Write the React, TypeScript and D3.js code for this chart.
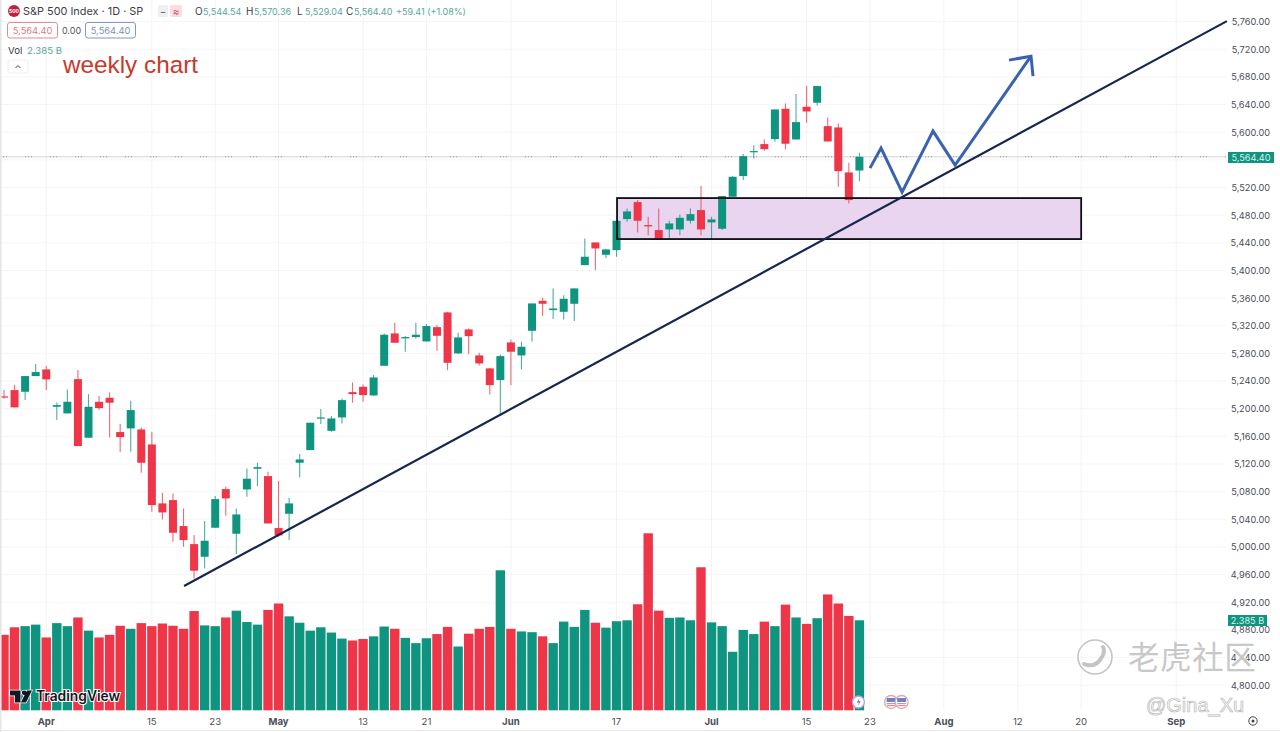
import React from "react";
import * as d3 from "d3";

// Daily OHLC, oldest first
const opens = [
  5217.8, 5226.9, 5224.5, 5247.2, 5256.8, 5202.8, 5193.2, 5242.8, 5158, 5210,
  5215.8, 5166.2, 5171.5, 5170, 5148.3, 5063, 5067.8, 5030.2, 5004.1, 4985.8,
  5027.8, 5083.7, 5019.1, 5083.2, 5113.1, 5102.5, 5027.3, 5048, 5121.8, 5140.1,
  5185.9, 5168, 5187.4, 5224, 5231.7, 5219.2, 5262.1, 5308.9, 5301.7, 5303.6,
  5297.3, 5318, 5339.3, 5280, 5314.7, 5277.1, 5258.3, 5241.4, 5295.9, 5277.1,
  5312.7, 5356.1, 5342.6, 5340.2, 5351.8, 5407.7, 5440.5, 5422.7, 5429.4, 5474.3,
  5498.9, 5465.6, 5458.4, 5459.3, 5459.3, 5471.9, 5487.3, 5469.5, 5460.3, 5506.6,
  5536.5, 5571.2, 5582.8, 5590, 5633.9, 5589.5, 5636.8, 5642.6, 5608.8, 5606.9,
  5541.8, 5544.54,
];
const highs = [
  5226.9, 5234.2, 5247.2, 5264.5, 5261.7, 5209, 5227.9, 5255.9, 5221.1, 5218.3,
  5223.6, 5177.7, 5211.5, 5172.9, 5166.7, 5078.4, 5077.4, 5055.7, 5017.2, 5037.4,
  5073.6, 5087.1, 5055.7, 5113.6, 5121.8, 5108.8, 5095.3, 5071.2, 5134.3, 5179.7,
  5199.4, 5189.3, 5214.8, 5238, 5235.1, 5248.6, 5308.9, 5324.3, 5305, 5324.3,
  5322.4, 5321, 5340.2, 5309.8, 5316.1, 5280.9, 5259.2, 5278.5, 5300.2, 5296.8,
  5352.3, 5360.5, 5374, 5364.3, 5374, 5446.3, 5440.5, 5431.3, 5471.9, 5489.7,
  5501.8, 5477.7, 5489.7, 5471.9, 5481, 5489.7, 5522.5, 5477.7, 5507.6, 5536.5,
  5568.3, 5581.3, 5589.5, 5632.9, 5641.6, 5655.1, 5666.7, 5666.7, 5621.4, 5612.7,
  5555.8, 5570.36,
];
const lows = [
  5214.9, 5201.9, 5212.5, 5247.2, 5226.9, 5183.5, 5193.2, 5145.9, 5158, 5198,
  5158.5, 5137.2, 5137.7, 5107.3, 5050.9, 5039.8, 5007.5, 5000.3, 4954.5, 4968.9,
  5027.8, 5045.1, 4989.7, 5072.6, 5088.1, 5034, 5014.8, 5009.9, 5100.6, 5140.1,
  5177.7, 5166.6, 5178.7, 5208.6, 5210, 5218.2, 5262.1, 5295.4, 5282.4, 5301.7,
  5297.3, 5283.8, 5255.8, 5279, 5279, 5262.6, 5220.6, 5190.7, 5234.1, 5256.8,
  5296.8, 5334, 5329.6, 5329.1, 5326.7, 5407.7, 5400.5, 5417.9, 5419.8, 5470.4,
  5455, 5451.1, 5445, 5446.3, 5451.1, 5468, 5451.1, 5444.9, 5458.4, 5506.6,
  5530.7, 5562, 5573.1, 5586.2, 5575, 5589.5, 5613.6, 5638.7, 5586.2, 5521.1,
  5497, 5529.04,
];
const closes = [
  5216.8, 5201.9, 5247.2, 5253, 5242.4, 5205.2, 5210, 5145.9, 5202.8, 5200.9,
  5208.6, 5158.9, 5198, 5121.8, 5060.6, 5049.9, 5020.5, 5009.9, 4965.6, 5009,
  5069.2, 5070.2, 5047, 5098.7, 5115.5, 5034, 5016.7, 5063, 5126.6, 5179.7,
  5187.4, 5185.9, 5212.4, 5221.1, 5219.7, 5245.2, 5307, 5295.4, 5303.6, 5307,
  5319.5, 5305.5, 5266.4, 5303.1, 5305, 5265.5, 5234.1, 5276.1, 5282.4, 5289.6,
  5352.3, 5351.8, 5345, 5359, 5374, 5419.8, 5431.8, 5430.4, 5471.9, 5485.4,
  5471.9, 5463.7, 5445.5, 5468, 5476.2, 5481.5, 5459.3, 5473.8, 5507.6, 5535.5,
  5565.4, 5572.7, 5575.5, 5632.9, 5583.3, 5614.6, 5630, 5666.7, 5586.6, 5543.7,
  5501.8, 5564.4,
];
// Volume in billions
const volumes = [
  2.0, 2.2, 2.23, 2.27, 1.93, 2.31, 2.23, 2.46, 2.11, 1.93,
  2.0, 2.24, 2.16, 2.31, 2.23, 2.3, 2.24, 2.16, 2.63, 2.25,
  2.23, 2.46, 2.64, 2.34, 2.27, 2.66, 2.83, 2.49, 2.32, 2.11,
  2.2, 2.06, 1.9, 1.85, 1.89, 1.96, 2.22, 2.16, 1.92, 1.78,
  1.91, 2.02, 2.21, 1.69, 2.03, 2.16, 2.21, 3.71, 2.16, 2.09,
  2.07, 1.96, 1.78, 2.35, 2.21, 2.66, 2.32, 2.19, 2.36, 2.385,
  2.81, 4.69, 2.64, 2.45, 2.46, 2.385, 3.79, 2.33, 2.23, 1.55,
  2.13, 2.02, 2.35, 2.23, 2.8, 2.46, 2.29, 2.44, 3.07, 2.83,
  2.5, 2.385,
];

const timeTickIndex = [4, 14, 20, 26, 34, 40, 48, 58, 67, 76, 82, 89, 96, 102, 111];
const timeTickLabel = ["Apr", "15", "23", "May", "13", "21", "Jun", "17", "Jul", "15", "23", "Aug", "12", "20", "Sep"];
const monthLabels = ["Apr", "May", "Jun", "Jul", "Aug", "Sep"];
const priceTicks = d3.range(4800, 5761, 40);
const hiddenPriceLabels = [5560]; // covered by the last-price tag

// Drawings on the chart, as [bar index, price]
const trendLine: [number, number][] = [[17.05, 4943.4], [115.8, 5760.7]];
const forecastPath: [number, number][] = [[82, 5548], [83.05, 5577], [85.04, 5513.4], [87.97, 5601.6], [90.06, 5552.4], [97.25, 5710]];
const forecastHead: [number, number][] = [[95.17, 5704.3], [97.25, 5710], [97.44, 5681]];
const zoneBars = [58.05, 102];
const zonePrices = [5504.7, 5445.4];
const eventFlagBars = [84, 85];
const lightningBar = 81;

const lastPrice = 5564.4;
const lastVolume = 2.385;

const UP = "#0f9480";
const DOWN = "#ef3648";
const AXIS = "#4a4e58";
const SOFT_UP = "#58a798";
const UI = "Inter, 'Liberation Sans', sans-serif";

const x = d3.scaleLinear().domain([0, 81]).range([4, 859.4]);
const y = d3.scaleLinear().domain([4800, 5760]).range([685.2, 21.6]);
const yVol = d3.scaleLinear().domain([0, 5]).range([710.3, 521.6]);
const lineGen = d3.line<[number, number]>().x((d) => x(d[0])).y((d) => y(d[1]));

const CANDLE_W = 8;
const VOL_W = 9.4;

function Candles() {
  return (
    <g>
      {closes.map((c, i) => {
        const o = opens[i];
        const col = c >= o ? UP : DOWN;
        const top = y(Math.max(o, c));
        const bot = y(Math.min(o, c));
        return (
          <g key={i}>
            <line x1={x(i)} x2={x(i)} y1={y(highs[i])} y2={y(lows[i])} stroke={col} strokeWidth={1.1} opacity={0.75} />
            <rect x={x(i) - CANDLE_W / 2} y={top} width={CANDLE_W} height={Math.max(bot - top, 1.2)} fill={col} />
          </g>
        );
      })}
    </g>
  );
}

function Header() {
  const ohlc: [string, string, number, number][] = [
    ["O", "5,544.54", 195, 203],
    ["H", "5,570.36", 246, 254],
    ["L", "5,529.04", 297, 305],
    ["C", "5,564.40", 346, 354],
  ];
  return (
    <g fontFamily={UI}>
      <circle cx={14} cy={11} r={6} fill="#c2213f" />
      <text x={14} y={13} fontSize={5} fill="#fff" textAnchor="middle" fontWeight={700}>500</text>
      <text x={23} y={15} fontSize={10.9} fill="#3a3d46">S&amp;P 500 Index · 1D · SP</text>
      <rect x={158} y={5} width={10} height={12} rx={2} fill="#eeeff2" />
      <rect x={170} y={5} width={12} height={12} rx={2} fill="#fbdde3" />
      <text x={163} y={15} fontSize={10} fill="#666" textAnchor="middle">−</text>
      <text x={176} y={15} fontSize={10} fill="#d4506a" textAnchor="middle">≈</text>
      {ohlc.map(([k, v, kx, vx]) => (
        <g key={k}>
          <text x={kx} y={15} fontSize={10} fill="#3a3d46">{k}</text>
          <text x={vx} y={15} fontSize={9} fill={SOFT_UP}>{v}</text>
        </g>
      ))}
      <text x={396} y={15} fontSize={9} fill={SOFT_UP}>+59.41 (+1.08%)</text>
      <rect x={7.5} y={22.5} width={50} height={15.5} rx={2.5} fill="#fff" stroke="#e08c96" />
      <text x={32.5} y={34} fontSize={9.3} fill="#d97c86" textAnchor="middle">5,564.40</text>
      <text x={71.5} y={34} fontSize={9} fill="#555" textAnchor="middle">0.00</text>
      <rect x={85.5} y={22.5} width={50} height={15.5} rx={2.5} fill="#fff" stroke="#7f97c4" />
      <text x={110.5} y={34} fontSize={9.3} fill="#7b90bd" textAnchor="middle">5,564.40</text>
      <text x={8} y={54} fontSize={9.6} fill="#3a3d46">Vol</text>
      <text x={27} y={54} fontSize={9.6} fill={SOFT_UP}>2.385 B</text>
      <rect x={8} y={60} width={20} height={13} rx={2} fill="#fff" stroke="#eeeeee" />
      <path d="M15.5 68 L18 65.5 L20.5 68" fill="none" stroke="#444" strokeWidth={1} />
      <text x={63} y={73} fontSize={24.3} fontFamily="'Liberation Sans', sans-serif" fill="#c8392b">weekly chart</text>
    </g>
  );
}

function Logo() {
  return (
    <g>
      <path
        d="M10 690.5 H20.5 V702.5 H15 V695.5 H10 Z M21.8 692.8 A2.3 2.3 0 1 1 26.4 692.8 A2.3 2.3 0 1 1 21.8 692.8 Z M27 690.5 H32 L26 702.5 H20.8 Z"
        fill="#131722" stroke="#fff" strokeWidth={1.4} paintOrder="stroke"
      />
      <text x={36} y={701} fontSize={13.8} fontWeight={600} fontFamily={UI} fill="#131722" stroke="#fff" strokeWidth={2} paintOrder="stroke">TradingView</text>
    </g>
  );
}

function Watermark() {
  return (
    <g>
      <circle cx={1095} cy={657} r={17} fill="none" stroke="#fff" strokeWidth={3.5} />
      <circle cx={1095} cy={657} r={17} fill="none" stroke="#c4c4c4" strokeWidth={1.6} />
      <path d="M1084 664 Q1094 668 1100 660 Q1106 652 1103 647" fill="none" stroke="#c4c4c4" strokeWidth={4} strokeLinecap="round" />
      <text x={1128} y={669} fontSize={31.5} fontFamily="'Noto Sans CJK SC', sans-serif" fill="#c8c8c8" stroke="#fff" strokeWidth={1.5} paintOrder="stroke" letterSpacing={0.6}>老虎社区</text>
      <text x={1146} y={712} fontSize={20} fontFamily="'Liberation Sans', sans-serif" fill="#fff" stroke="#b8b8b8" strokeWidth={0.7}>@Gina_Xu</text>
    </g>
  );
}

function EventIcons() {
  const iconY = 702;
  return (
    <g>
      <circle cx={x(lightningBar) - 1} cy={iconY} r={6} fill="#fff" stroke="#b9a3dd" strokeWidth={1.3} />
      <path d="M859.5 698 L856.8 702.6 H859 L857.6 706 L860.8 701.2 H858.6 Z" fill="#7a5fb8" />
      {eventFlagBars.map((b) => (
        <g key={b}>
          <circle cx={x(b)} cy={iconY} r={6.5} fill="#fff" stroke="#d9a7b3" strokeWidth={1.3} />
          <rect x={x(b) - 4.5} y={iconY - 4} width={9} height={4} fill="#6c85be" />
          <rect x={x(b) - 4.5} y={iconY + 1} width={9} height={1.2} fill="#e58a97" />
          <rect x={x(b) - 4} y={iconY + 3} width={8} height={1.2} fill="#e58a97" />
        </g>
      ))}
    </g>
  );
}

export default function App() {
  return (
    <svg
      width={1280}
      height={732}
      viewBox="0 0 1280 732"
      style={{ position: "fixed", left: 0, top: 0, display: "block", background: "#fff" }}
    >
      {priceTicks.map((p) => (
        <line key={p} x1={0} x2={1226} y1={y(p)} y2={y(p)} stroke="#f5f5f6" strokeWidth={1} />
      ))}
      {timeTickIndex.map((i) => (
        <line key={i} x1={x(i)} x2={x(i)} y1={0} y2={710} stroke="#f3f3f4" strokeWidth={1} />
      ))}

      <rect
        x={x(zoneBars[0])}
        y={y(zonePrices[0])}
        width={x(zoneBars[1]) - x(zoneBars[0])}
        height={y(zonePrices[1]) - y(zonePrices[0])}
        fill="#ead5f0"
      />

      <line x1={0} x2={1226} y1={y(lastPrice)} y2={y(lastPrice)} stroke="#d4d4d6" strokeWidth={1} />
      <line x1={0} x2={1226} y1={y(lastPrice)} y2={y(lastPrice)} stroke="#9a9a9e" strokeWidth={1} strokeDasharray="1 2 1 2 1 18" />

      {volumes.map((v, i) => (
        <rect
          key={i}
          x={x(i) - VOL_W / 2}
          y={yVol(v)}
          width={VOL_W}
          height={yVol(0) - yVol(v)}
          fill={closes[i] >= opens[i] ? UP : DOWN}
        />
      ))}

      <Candles />
      <rect x={0} y={0} width={1.6} height={732} fill="#e6e6e8" />

      <rect
        x={x(zoneBars[0])}
        y={y(zonePrices[0])}
        width={x(zoneBars[1]) - x(zoneBars[0])}
        height={y(zonePrices[1]) - y(zonePrices[0])}
        fill="none"
        stroke="#0d0d14"
        strokeWidth={1.8}
      />
      <path d={lineGen(trendLine) ?? ""} fill="none" stroke="#16264f" strokeWidth={2.2} />
      <path d={lineGen(forecastPath) ?? ""} fill="none" stroke="#3a62ae" strokeWidth={3} strokeLinejoin="miter" />
      <path d={lineGen(forecastHead) ?? ""} fill="none" stroke="#3a62ae" strokeWidth={3} />

      <Logo />
      <EventIcons />
      <Header />

      <g fontFamily={UI} fontSize={9.2} fill={AXIS}>
        {priceTicks.filter((p) => !hiddenPriceLabels.includes(p)).map((p) => (
          <text key={p} x={1270} y={y(p) + 3.4} textAnchor="end">{d3.format(",.2f")(p)}</text>
        ))}
      </g>
      <rect x={1228} y={152} width={46} height={11} fill={UP} />
      <text x={1251} y={160.5} fontFamily={UI} fontSize={9.2} fill="#d6f2ec" textAnchor="middle">{d3.format(",.2f")(lastPrice)}</text>
      <rect x={1228} y={615} width={39} height={11} fill={UP} />
      <text x={1247.5} y={623.5} fontFamily={UI} fontSize={9.2} fill="#d6f2ec" textAnchor="middle">{lastVolume} B</text>

      <g fontFamily={UI} fontSize={9.6} fill={AXIS} textAnchor="middle">
        {timeTickIndex.map((t, k) => (
          <text
            key={t}
            x={x(t)}
            y={724.5}
            fontWeight={monthLabels.includes(timeTickLabel[k]) ? 700 : 400}
          >
            {timeTickLabel[k]}
          </text>
        ))}
      </g>
      <line x1={0} x2={1280} y1={730.5} y2={730.5} stroke="#e8e8ea" />
      <circle cx={1253} cy={721} r={4.2} fill="none" stroke="#444" strokeWidth={1} />
      <circle cx={1253} cy={721} r={1.5} fill="#444" />
      <Watermark />
    </svg>
  );
}
